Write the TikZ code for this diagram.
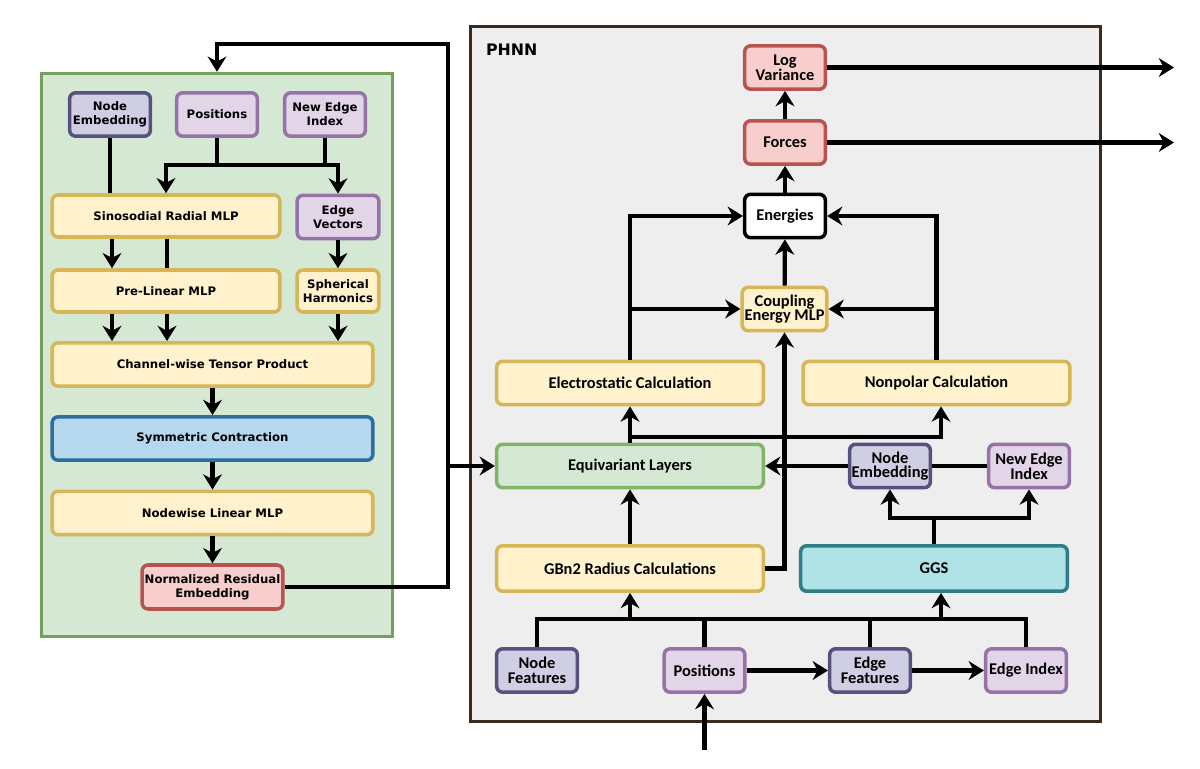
\documentclass[tikz,border=0pt]{standalone}
\usepackage{fontspec}
\usepackage{xcolor}
\usepackage{tikz}
\usetikzlibrary{shapes.geometric, arrows.meta, positioning, calc}
\setmainfont{DejaVu Sans}
\newfontfamily\condfont{Carlito}
\definecolor{embedfill}{HTML}{D0CEE2}
\definecolor{embeddraw}{HTML}{56517E}
\definecolor{inputfill}{HTML}{E1D5E7}
\definecolor{inputdraw}{HTML}{9673A6}
\definecolor{calcfill}{HTML}{FFF2CC}
\definecolor{calcdraw}{HTML}{D6B656}
\definecolor{contrfill}{HTML}{B5D8EF}
\definecolor{contrdraw}{HTML}{2C6E9F}
\definecolor{outfill}{HTML}{F8CECC}
\definecolor{outdraw}{HTML}{B85450}
\definecolor{layerfill}{HTML}{D5E8D4}
\definecolor{layerdraw}{HTML}{82B366}
\definecolor{ggsfill}{HTML}{B0E3E6}
\definecolor{ggsdraw}{HTML}{2F7D86}
\definecolor{phnnfill}{HTML}{EEEEEE}
\definecolor{phnndraw}{HTML}{3B2A1E}
\tikzset{
  block/.style={
    rectangle, rounded corners=5pt, line width=3pt,
    align=center, inner sep=1pt,
    minimum width=2.42cm, minimum height=1.3cm,
  },
  lefttxt/.style={font=\bfseries\fontsize{10}{12}\selectfont},
  righttxt/.style={font=\condfont\bfseries\fontsize{14}{12.5}\selectfont},
  embedding/.style={block, draw=embeddraw, fill=embedfill},
  position/.style={block, draw=inputdraw, fill=inputfill},
  process/.style={block, draw=calcdraw, fill=calcfill},
  contraction/.style={block, draw=contrdraw, fill=contrfill},
  output/.style={block, draw=outdraw, fill=outfill},
  layer/.style={block, draw=layerdraw, fill=layerfill},
  graph/.style={block, draw=ggsdraw, fill=ggsfill},
  energy/.style={block, draw=black, fill=white},
  panel/.style={rectangle, line width=2.6pt, inner sep=0pt},
  arrow/.style={-{Stealth[length=13pt, width=16pt]}, line width=3.6pt, black},
  link/.style={line width=3.6pt, black},
}

\begin{document}
\begin{tikzpicture}[x=0.03cm, y=-0.03cm]
  \useasboundingbox (0,0) rectangle (1200,769);

  % left panel
  \node[panel, draw=layerdraw!90!black, fill=layerfill, minimum width=10.55cm, minimum height=16.9cm] (lpanel) at (217,355) {};

  \node[embedding, lefttxt] (lemb) at (110,114.5) {Node\\Embedding};
  \node[position, lefttxt] (lpos) at (217,114.5) {Positions};
  \node[position, lefttxt] (lnei) at (325,114.5) {New Edge\\Index};
  \node[process, lefttxt, minimum width=6.83cm, minimum height=1.26cm] (sino) at (166,216) {Sinosodial Radial MLP};
  \node[position, lefttxt, minimum width=2.45cm] (evec) at (338,217) {Edge\\Vectors};
  \node[process, lefttxt, minimum width=6.83cm, minimum height=1.26cm] (prelin) at (166,291) {Pre-Linear MLP};
  \node[process, lefttxt, minimum width=2.45cm, minimum height=1.26cm] (sph) at (338,291) {Spherical\\Harmonics};
  \node[process, lefttxt, minimum width=9.62cm] (chan) at (212.5,364.5) {Channel-wise Tensor Product};
  \node[contraction, lefttxt, minimum width=9.62cm] (sym) at (212.5,438.5) {Symmetric Contraction};
  \node[process, lefttxt, minimum width=9.62cm] (nodew) at (212.5,513) {Nodewise Linear MLP};
  \node[output, lefttxt, minimum width=4.22cm, minimum height=1.32cm] (nre) at (212.5,587) {Normalized Residual\\Embedding};

  \coordinate (lbus) at (217,165);
  \coordinate (colA) at (112,0);
  \coordinate (colB) at (167,0);
  \coordinate (fbtop) at (448,44);

  \draw[link] (lemb) -- (lemb |- sino.north);
  \draw[link] (lpos) -- (lbus);
  \draw[link] (lnei) -- (lnei |- lbus);
  \draw[arrow] (lbus) -| (sino.north);
  \draw[arrow] (lbus) -| (evec.north);
  \draw[arrow] (sino.south -| colA) -- (prelin.north -| colA);
  \draw[link] (sino.south -| colB) -- (prelin.north -| colB);
  \draw[arrow] (evec) -- (sph);
  \draw[arrow] (prelin.south -| colA) -- (chan.north -| colA);
  \draw[arrow] (prelin.south -| colB) -- (chan.north -| colB);
  \draw[arrow] (sph) -- (sph |- chan.north);
  \draw[arrow] (chan) -- (sym);
  \draw[arrow] (sym) -- (nodew);
  \draw[arrow] (nodew) -- (nre);
  \draw[arrow] (nre.east) -| (fbtop) -| (lpanel.north);

  % PHNN panel
  \node[panel, draw=phnndraw, fill=phnnfill, minimum width=18.9cm, minimum height=20.85cm] (phnn) at (785.5,374) {};
  \node[anchor=west, font=\bfseries\fontsize{13.5}{15}\selectfont] (phnnlbl) at (482,50) {PHNN};

  \node[output, righttxt] (logvar) at (785,67.5) {Log\\Variance};
  \node[output, righttxt] (forces) at (785,142.5) {Forces};
  \node[energy, righttxt] (energ) at (785,216) {Energies};
  \node[process, righttxt, minimum width=2.54cm] (coup) at (784.5,309) {Coupling\\Energy MLP};
  \node[process, righttxt, minimum width=8cm] (elec) at (630,383) {Electrostatic Calculation};
  \node[process, righttxt, minimum width=8cm] (nonp) at (936.5,383) {Nonpolar Calculation};
  \node[layer, righttxt, minimum width=8cm] (equi) at (630,466) {Equivariant Layers};
  \node[embedding, righttxt] (remb) at (890,466) {Node\\Embedding};
  \node[position, righttxt] (rnei) at (1029,466) {New Edge\\Index};
  \node[process, righttxt, minimum width=8cm, minimum height=1.36cm] (gbn) at (630,568.5) {GBn2 Radius Calculations};
  \node[graph, righttxt, minimum width=8cm, minimum height=1.36cm] (ggs) at (934,568.5) {GGS};
  \node[embedding, righttxt] (nfeat) at (537,670.5) {Node\\Features};
  \node[position, righttxt] (rpos) at (704.5,670.5) {Positions};
  \node[embedding, righttxt] (efeat) at (870,670.5) {Edge\\Features};
  \node[position, righttxt] (eidx) at (1026,670.5) {Edge Index};

  \coordinate (outA) at (1174,67.5);
  \coordinate (outB) at (1174,142.5);
  \coordinate (ebus) at (630,437);
  \coordinate (gbus) at (934,518);
  \coordinate (bbus) at (0,619);
  \coordinate (colR) at (941,0);
  \coordinate (inp) at (704.5,750);

  \draw[arrow] (logvar.east) -- (outA);
  \draw[arrow] (forces.east) -- (outB);
  \draw[arrow] (forces) -- (logvar);
  \draw[arrow] (energ) -- (forces);
  \draw[arrow] (coup) -- (energ);
  \draw[arrow] (elec.north) |- (energ.west);
  \draw[arrow] (elec.north |- coup.west) -- (coup.west);
  \draw[arrow] (nonp.north) |- (energ.east);
  \draw[arrow] (nonp.north |- coup.east) -- (coup.east);
  \draw[arrow] (equi.north) -- (elec.south);
  \draw[arrow] (ebus) -| (nonp.south -| colR);
  \draw[arrow] (equi.west -| fbtop) -- (equi.west);
  \draw[arrow] (gbn) -- (equi);
  \draw[arrow] (gbn.east) -| (coup.south);
  \draw[arrow] (remb) -- (equi);
  \draw[link] (rnei) -- (remb);
  \draw[link] (ggs.north) -- (ggs.north |- gbus);
  \draw[arrow] (ggs.north |- gbus) -| (remb.south);
  \draw[arrow] (ggs.north |- gbus) -| (rnei.south);
  \draw[link] (nfeat.north) -- (nfeat.north |- bbus) -- (eidx.north |- bbus) -- (eidx.north);
  \draw[link] (rpos.north) -- (rpos.north |- bbus);
  \draw[link] (efeat.north) -- (efeat.north |- bbus);
  \draw[arrow] (gbn.south |- bbus) -- (gbn.south);
  \draw[arrow] (bbus -| colR) -- (ggs.south -| colR);
  \draw[arrow] (rpos) -- (efeat);
  \draw[arrow] (efeat) -- (eidx);
  \draw[arrow] (inp) -- (rpos.south);

\end{tikzpicture}
\end{document}
